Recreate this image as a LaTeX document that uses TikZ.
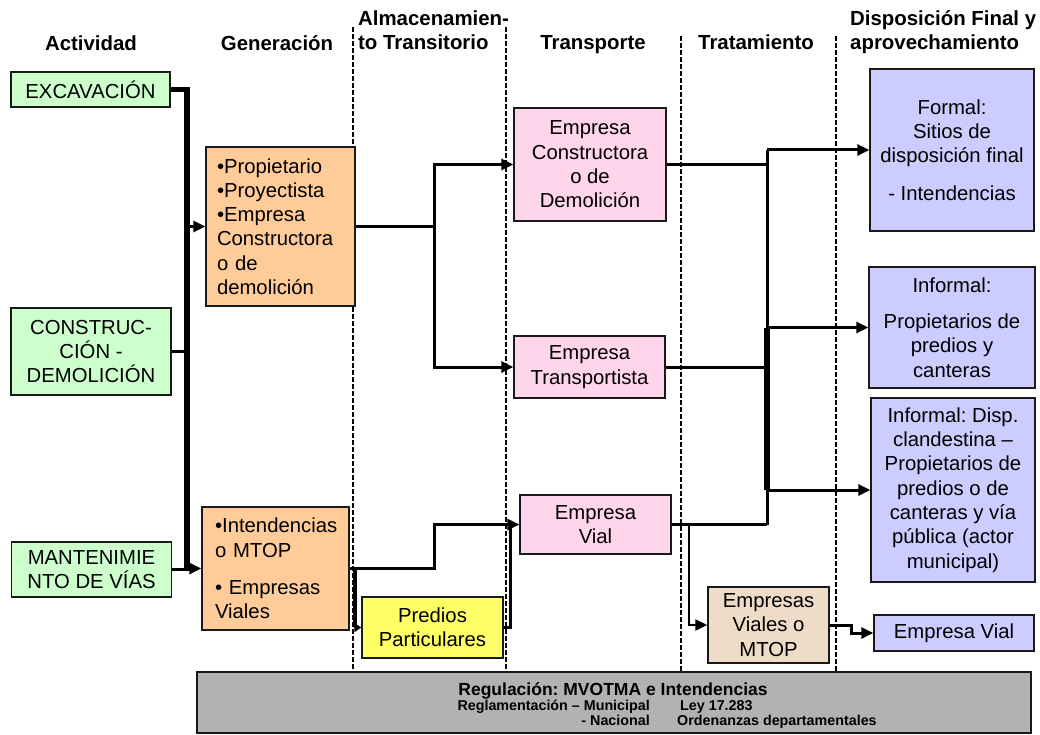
\documentclass[tikz,border=0pt]{standalone}
\usepackage{fontspec}
\setmainfont{Liberation Sans}
\usetikzlibrary{arrows.meta}
\definecolor{cgreen}{HTML}{CCFFCC}
\definecolor{corange}{HTML}{FFCC99}
\definecolor{cpink}{HTML}{FFD5EC}
\definecolor{cblue}{HTML}{CCCCFF}
\definecolor{cyellow}{HTML}{FFFF66}
\definecolor{ctan}{HTML}{EEDCC8}
\definecolor{cgray}{HTML}{B2B2B2}
\frenchspacing
\begin{document}
\frenchspacing
\begin{tikzpicture}[x=1pt,y=-1pt,
  box/.style={draw=black!90, line width=1.4pt, inner sep=0pt, align=center,
    font={\frenchspacing\fontsize{20.3}{24.3}\selectfont}},
  lbox/.style={box, align=left},
  hdr/.style={inner sep=0pt, anchor=base, font={\frenchspacing\bfseries\fontsize{20.4}{23}\selectfont}},
  regs/.style={inner sep=0pt, font={\frenchspacing\bfseries\fontsize{14.3}{16}\selectfont}},
  sep/.style={black, line width=2pt, dash pattern=on 5pt off 2pt},
  conn/.style={black, line width=3pt},
  trunkline/.style={black, line width=5.5pt},
  arr/.style={conn, -{Triangle[length=12pt,width=11pt]}},
  sarr/.style={black, line width=2.2pt, -{Triangle[length=12pt,width=11pt]}}]
\useasboundingbox (0,0) rectangle (1040,735);

% separators
\draw[sep] (353,27) -- (353,672);
\draw[sep] (506,27) -- (506,672);
\draw[sep] (681,36) -- (681,672);
\draw[sep] (836,36) -- (836,672);

% headers
\node[hdr] (hact) at (91,51) {Actividad};
\node[hdr] (hgen) at (277,51) {Generación};
\node[hdr, anchor=base west] (halm1) at (358,26) {Almacenamien-};
\node[hdr, anchor=base west] (halm2) at (358,50) {to Transitorio};
\node[hdr] (htra) at (593,50) {Transporte};
\node[hdr] (htrat) at (756,50) {Tratamiento};
\node[hdr, anchor=base west] (hdis1) at (850,26) {Disposición Final y};
\node[hdr, anchor=base west] (hdis2) at (850,50) {aprovechamiento};

% boxes
\node[box, fill=cgreen, minimum width=159pt, minimum height=35pt] (exc) at (90.5,89.5) {EXCAVACIÓN};
\node[box, fill=cgreen, minimum width=160pt, minimum height=87pt] (con) at (91,351.5) {CONSTRUC-\\CIÓN -\\DEMOLICIÓN};
\node[box, fill=cgreen, minimum width=160pt, minimum height=55pt] (man) at (91.5,569.5) {MANTENIMIE\\NTO DE VÍAS};

\node[lbox, fill=corange, minimum height=159pt, text width=127pt, inner xsep=11pt] (gen) at (280.5,226.5)
  {•Propietario\\•Proyectista\\•Empresa\\Constructora\\o de\\demolición};
\node[lbox, fill=corange, minimum height=123pt, text width=121pt, inner xsep=13pt] (int) at (275.5,568.5)
  {•Intendencias\\o MTOP\\[13pt]• Empresas\\Viales};

\node[box, fill=cyellow, minimum width=141pt, minimum height=61pt] (pred) at (432.5,627.5) {Predios\\Particulares};

\node[box, fill=cpink, minimum width=152pt, minimum height=113pt] (ec) at (590,164.5) {Empresa\\Constructora\\o de\\Demolición};
\node[box, fill=cpink, minimum width=151pt, minimum height=62pt] (et) at (589.5,367) {Empresa\\Transportista};
\node[box, fill=cpink, minimum width=151pt, minimum height=59pt] (ev) at (595.5,524.5) {Empresa\\Vial};

\node[box, fill=ctan, minimum width=121pt, minimum height=76pt] (evm) at (768.5,625) {Empresas\\Viales o\\MTOP};

\node[box, fill=cblue, minimum width=164pt, minimum height=162pt] (formal) at (952,150)
  {Formal:\\Sitios de\\disposición final\\[13pt]- Intendencias};
\node[box, fill=cblue, minimum width=166pt, minimum height=121pt] (inf) at (952,327.5)
  {Informal:\\[12pt]Propietarios de\\predios y\\canteras};
\node[box, fill=cblue, minimum width=164pt, minimum height=184pt] (cland) at (953,490)
  {Informal: Disp.\\clandestina –\\Propietarios de\\predios o de\\canteras y vía\\pública (actor\\municipal)};
\node[box, fill=cblue, minimum width=160pt, minimum height=36pt] (evb) at (954,633) {Empresa Vial};

\node[box, fill=cgray, minimum width=834pt, minimum height=61pt] (reg) at (614,702.5) {};
\node[inner sep=0pt, anchor=base, font={\frenchspacing\bfseries\fontsize{17.5}{20}\selectfont}] (reg1) at (613,695) {Regulación: MVOTMA e Intendencias};
\node[regs, anchor=base east] (reg2a) at (650,710.5) {Reglamentación – Municipal};
\node[regs, anchor=base west] (reg2b) at (680,710.5) {Ley 17.283};
\node[regs, anchor=base east] (reg3a) at (650,725.5) {- Nacional};
\node[regs, anchor=base west] (reg3b) at (677,725.5) {Ordenanzas departamentales};

% left trunk
\coordinate (tbot) at (187,571);
\draw[trunkline] (exc.east) -| (tbot);
\draw[black, line width=2.2pt] (con.east) -- (con.east -| tbot);
\draw[conn] (man.east) -- (man.east -| tbot);
\draw[arr] (gen.west -| tbot) -- (gen.west);
\draw[arr] (int.west -| tbot) -- (int.west);

% generation to transport
\coordinate (ja) at (434,226.5);
\draw[conn] (gen.east) -- (ja);
\draw[arr] (ja) |- (ec.west);
\draw[arr] (ja) |- (et.west);

% intendencias
\coordinate (jb) at (434,568.5);
\draw[arr] (int.east) -- (jb) |- (ev.west);
\coordinate (jp) at (355,568.5);
\draw[black, line width=3.4pt, -{Triangle[length=7pt,width=9pt]}] (int.east) -- (jp) |- (pred.west);
\coordinate (jc) at (510,524.5);
\draw[conn] (pred.east) -| (jc);

% transport to final disposal
\coordinate (rt) at (767,150);
\coordinate (rb) at (767,524.5);
\draw[conn] (ec.east) -- (ec.east -| rt);
\draw[conn] (et.east) -- (et.east -| rt);
\draw[conn] (ev.east) -- (rb);
\draw[conn] (rt) -- (rb);
\draw[trunkline] (inf.west -| rt) -- (cland.west -| rt);
\draw[arr] (rt) -- (formal.west);
\draw[arr] (inf.west -| rt) -- (inf.west);
\draw[arr] (cland.west -| rt) -- (cland.west);

% vial branch
\coordinate (jd) at (689,524.5);
\draw[sarr] (jd) |- (evm.west);
\coordinate (je) at (851,625);
\draw[arr] (evm.east) -- (je) |- (evb.west);
\end{tikzpicture}
\end{document}
